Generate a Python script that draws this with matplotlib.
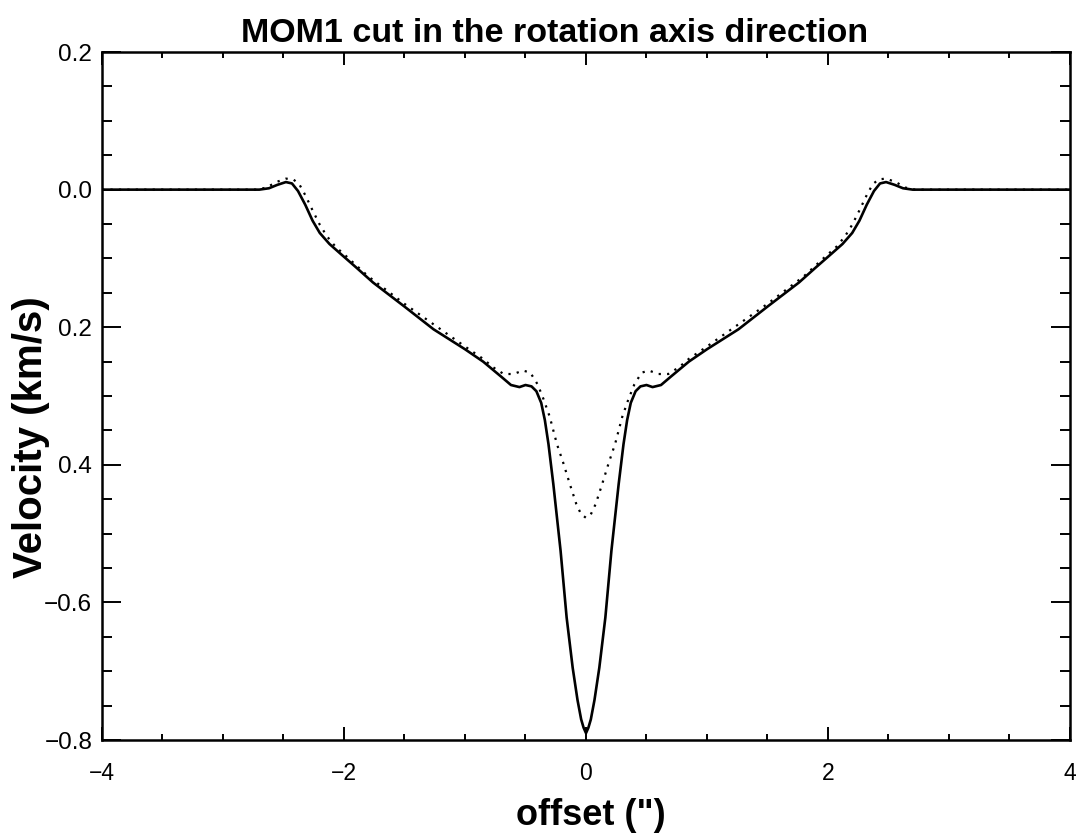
import matplotlib
matplotlib.use("Agg")
import matplotlib.pyplot as plt
from matplotlib.ticker import FixedLocator, FixedFormatter, MultipleLocator

plt.rcParams['font.family'] = ['Liberation Sans', 'DejaVu Sans']

# solid curve (offset in arcsec, velocity in km/s)
solid_x = [-4.0, -2.7, -2.62, -2.55, -2.48, -2.43, -2.38, -2.32, -2.26, -2.2,
           -2.12, -2.03, -1.9, -1.76, -1.5, -1.26, -1.0, -0.85, -0.7, -0.62,
           -0.55, -0.5, -0.45, -0.41, -0.37, -0.34, -0.31, -0.27, -0.21, -0.16, -0.11,
           -0.07, -0.04, -0.02, 0.0,
           0.02, 0.04, 0.07, 0.11, 0.16, 0.21, 0.27, 0.31, 0.34, 0.37, 0.41, 0.45,
           0.5, 0.55, 0.62, 0.7, 0.85, 1.0, 1.26, 1.5, 1.76, 1.9,
           2.03, 2.12, 2.2, 2.26, 2.32, 2.38, 2.43, 2.48, 2.55, 2.62, 2.7, 4.0]
solid_v = [0.0, 0.0, 0.002, 0.007, 0.011, 0.009, -0.002, -0.022, -0.045, -0.063,
           -0.079, -0.093, -0.113, -0.135, -0.17, -0.203, -0.232, -0.25, -0.272, -0.284,
           -0.287, -0.284, -0.286, -0.293, -0.31, -0.335, -0.37, -0.428, -0.525, -0.622, -0.695,
           -0.742, -0.77, -0.782, -0.79,
           -0.782, -0.77, -0.742, -0.695, -0.622, -0.525, -0.428, -0.37, -0.335, -0.31, -0.293, -0.286,
           -0.284, -0.287, -0.284, -0.272, -0.25, -0.232, -0.203, -0.17, -0.135, -0.113,
           -0.093, -0.079, -0.063, -0.045, -0.022, -0.002, 0.009, 0.011, 0.007, 0.002, 0.0, 0.0]

# dotted curve
dot_x = [-4.0, -2.72, -2.64, -2.56, -2.48, -2.42, -2.37, -2.32, -2.26, -2.2,
         -2.14, -2.07, -1.98, -1.8, -1.5, -1.25, -1.0, -0.85, -0.77, -0.68,
         -0.6, -0.52, -0.46, -0.4, -0.35, -0.3, -0.24, -0.19, -0.13, -0.08,
         -0.04, 0.0,
         0.04, 0.08, 0.13, 0.19, 0.24, 0.3, 0.35, 0.4, 0.46, 0.52,
         0.6, 0.68, 0.77, 0.85, 1.0, 1.25, 1.5, 1.8, 1.98, 2.07,
         2.14, 2.2, 2.26, 2.32, 2.37, 2.42, 2.48, 2.56, 2.64, 2.72, 4.0]
dot_v = [0.0, 0.0, 0.003, 0.011, 0.016, 0.015, 0.008, -0.008, -0.03, -0.051,
         -0.068, -0.083, -0.097, -0.126, -0.166, -0.197, -0.228, -0.246, -0.258, -0.268,
         -0.268, -0.263, -0.266, -0.283, -0.305, -0.33, -0.37, -0.396, -0.43, -0.457,
         -0.472, -0.477,
         -0.472, -0.457, -0.43, -0.396, -0.37, -0.33, -0.305, -0.283, -0.266, -0.263,
         -0.268, -0.268, -0.258, -0.246, -0.228, -0.197, -0.166, -0.126, -0.097, -0.083,
         -0.068, -0.051, -0.03, -0.008, 0.008, 0.015, 0.016, 0.011, 0.003, 0.0, 0.0]

y_ticks = [0.2, 0.0, -0.2, -0.4, -0.6, -0.8]
y_labels = ["0.2", "0.0", "0.2", "0.4", "\u22120.6", "\u22120.8"]
x_ticks = [-4, -2, 0, 2, 4]
x_labels = ["\u22124", "\u22122", "0", "2", "4"]

fig = plt.figure(figsize=(10.77, 8.34), dpi=100)
ax = fig.add_axes([0.0947, 0.1127, 0.8988, 0.8249])

ax.plot(solid_x, solid_v, color="k", lw=1.9, solid_joinstyle="round")
ax.plot(dot_x, dot_v, color="k", lw=1.6, linestyle=(0, (1, 2.8)))

ax.set_xlim(-4, 4)
ax.set_ylim(-0.8, 0.2)

ax.xaxis.set_major_locator(FixedLocator(x_ticks))
ax.xaxis.set_major_formatter(FixedFormatter(x_labels))
ax.xaxis.set_minor_locator(MultipleLocator(0.5))
ax.yaxis.set_major_locator(FixedLocator(y_ticks))
ax.yaxis.set_major_formatter(FixedFormatter(y_labels))
ax.yaxis.set_minor_locator(MultipleLocator(0.05))

ax.tick_params(which="both", direction="in", top=True, right=True, width=1.4, colors="k")
ax.tick_params(axis="x", which="major", length=9.5, labelsize=16.5, pad=16)
ax.tick_params(axis="x", which="minor", length=4.5)
ax.tick_params(axis="y", which="major", length=14, labelsize=17.5, pad=7)
ax.tick_params(axis="y", which="minor", length=7)
for sp in ax.spines.values():
    sp.set_linewidth(1.8)

ttl = ax.set_title("MOM1 cut in the rotation axis direction", fontsize=24.5, fontweight="bold", pad=7.2)
ttl.set_x(0.468)
ax.set_xlabel("offset (\")", fontsize=26, fontweight="bold")
ax.xaxis.set_label_coords(0.505, -0.085)
ax.set_ylabel("Velocity (km/s)", fontsize=29, fontweight="bold")
ax.yaxis.set_label_coords(-0.0537, 0.44)

fig.savefig("out.png", dpi=100)
